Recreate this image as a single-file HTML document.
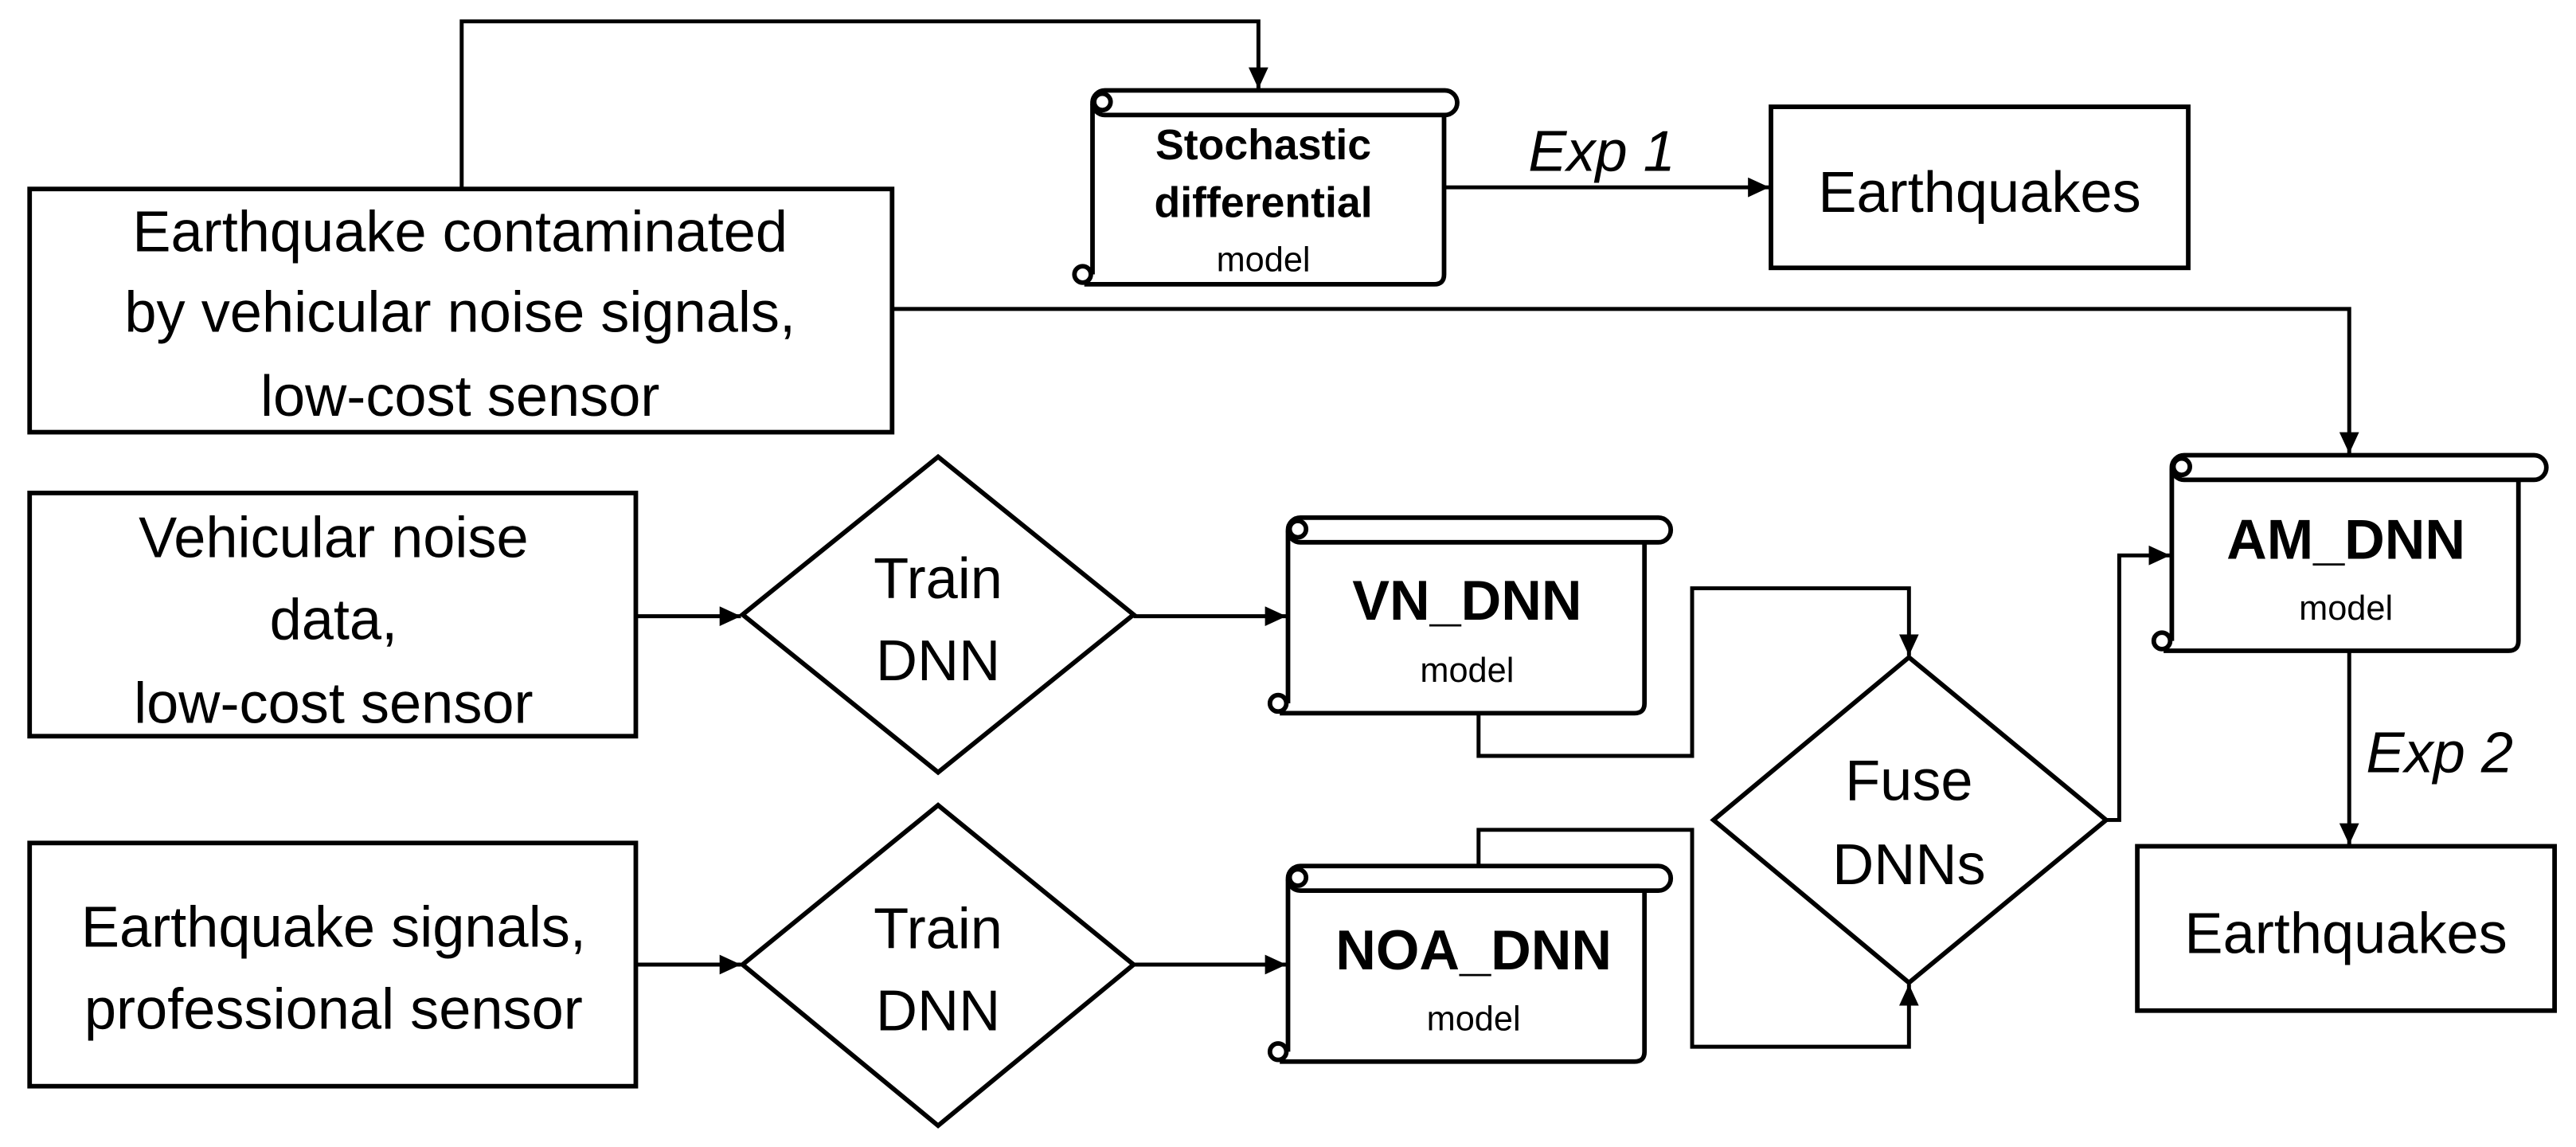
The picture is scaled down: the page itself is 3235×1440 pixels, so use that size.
<!DOCTYPE html>
<html><head><meta charset="utf-8"><style>
html,body{margin:0;padding:0;background:#fff;}
svg{display:block;}
text{font-family:"Liberation Sans",sans-serif;fill:#000;text-anchor:middle;}
</style></head><body>
<svg width="3235" height="1440" viewBox="0 0 1568 698" xmlns="http://www.w3.org/2000/svg">
<defs>
<marker id="a" markerWidth="14" markerHeight="14" refX="13" refY="6" orient="auto" markerUnits="userSpaceOnUse"><path d="M0,0 L13,6 L0,12 z" fill="#000"/></marker>
</defs>
<g fill="none" stroke="#000" stroke-width="2.8">
<rect x="18" y="115" width="525" height="148"/>
<rect x="1078" y="65" width="254" height="98"/>
<rect x="18" y="300" width="369" height="148"/>
<rect x="18" y="513" width="369" height="148"/>
<rect x="1301" y="515" width="254" height="100"/>
<polygon points="571,278 690,374 571,470 452,374"/>
<polygon points="571,490 690,587 571,685 452,587"/>
<polygon points="1162,400 1282,499 1162,598 1043,499"/>
</g>
<g fill="#fff" stroke="#000" stroke-width="2.8">
<g>
<path d="M665,63 L665,167 M660,173 L873,173 Q879,173 879,167 L879,70"/>
<rect x="665" y="55" width="222" height="15" rx="7.5"/>
<circle cx="671" cy="62" r="5"/>
<circle cx="659" cy="167" r="5"/>
</g>
<g>
<path d="M784,323 L784,428 M779,434 L995,434 Q1001,434 1001,428 L1001,330"/>
<rect x="784" y="315" width="233" height="15" rx="7.5"/>
<circle cx="790" cy="322" r="5"/>
<circle cx="778" cy="428" r="5"/>
</g>
<g>
<path d="M784,535 L784,640 M779,646 L995,646 Q1001,646 1001,640 L1001,542"/>
<rect x="784" y="527" width="233" height="15" rx="7.5"/>
<circle cx="790" cy="534" r="5"/>
<circle cx="778" cy="640" r="5"/>
</g>
<g>
<path d="M1322,285 L1322,390 M1317,396 L1527,396 Q1533,396 1533,390 L1533,292"/>
<rect x="1322" y="277" width="228" height="15" rx="7.5"/>
<circle cx="1328" cy="284" r="5"/>
<circle cx="1316" cy="390" r="5"/>
</g>
</g>
<g fill="none" stroke="#000" stroke-width="2.4">
<path d="M281,115 L281,13 L766,13 L766,54" marker-end="url(#a)"/>
<path d="M879,114 L1077,114" marker-end="url(#a)"/>
<path d="M543,188 L1430,188 L1430,276" marker-end="url(#a)"/>
<path d="M1430,397 L1430,514" marker-end="url(#a)"/>
<path d="M387,375 L451,375" marker-end="url(#a)"/>
<path d="M690,375 L783,375" marker-end="url(#a)"/>
<path d="M387,587 L451,587" marker-end="url(#a)"/>
<path d="M690,587 L783,587" marker-end="url(#a)"/>
<path d="M900,434 L900,460 L1030,460 L1030,358 L1162,358 L1162,399" marker-end="url(#a)"/>
<path d="M900,527 L900,505 L1030,505 L1030,637 L1162,637 L1162,599" marker-end="url(#a)"/>
<path d="M1282,499 L1290,499 L1290,338 L1321,338" marker-end="url(#a)"/>
</g>
<g font-size="35">
<text x="280" y="153">Earthquake contaminated</text>
<text x="280" y="202">by vehicular noise signals,</text>
<text x="280" y="253">low-cost sensor</text>
<text x="203" y="339">Vehicular noise</text>
<text x="203" y="389">data,</text>
<text x="203" y="440">low-cost sensor</text>
<text x="203" y="576">Earthquake signals,</text>
<text x="203" y="626">professional sensor</text>
<text x="1205" y="129">Earthquakes</text>
<text x="1428" y="580">Earthquakes</text>
<text x="571" y="364">Train</text>
<text x="571" y="414">DNN</text>
<text x="571" y="577">Train</text>
<text x="571" y="627">DNN</text>
<text x="1162" y="487">Fuse</text>
<text x="1162" y="538">DNNs</text>
<text x="975" y="104" font-style="italic">Exp 1</text>
<text x="1485" y="470" font-style="italic">Exp 2</text>
</g>
<g font-weight="bold">
<text x="769" y="97" font-size="26">Stochastic</text>
<text x="769" y="132" font-size="26">differential</text>
<text x="893" y="377" font-size="34">VN_DNN</text>
<text x="897" y="590" font-size="34">NOA_DNN</text>
<text x="1428" y="340" font-size="34">AM_DNN</text>
</g>
<g font-size="21">
<text x="769" y="165">model</text>
<text x="893" y="415">model</text>
<text x="897" y="627">model</text>
<text x="1428" y="377">model</text>
</g>
</svg>
</body></html>
